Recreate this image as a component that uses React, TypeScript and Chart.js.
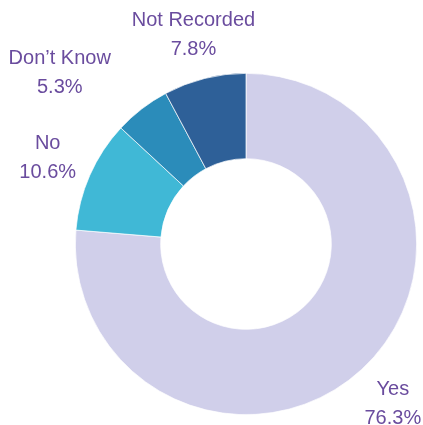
import React, { useEffect, useRef } from "react";
import { Chart, registerables } from "chart.js";

Chart.register(...registerables);

const categories = ["Yes", "No", "Don\u2019t Know", "Not Recorded"];
const values = [76.3, 10.6, 5.3, 7.8];
const valueLabels = ["76.3%", "10.6%", "5.3%", "7.8%"];

const colors = ["#d0cfea", "#40b8d6", "#2b8cba", "#2e6098"];
const labelNudgeX = [0, 0, -54, 0];
const labelNudgeY = [0, 0, 0, 0];

const labelPlugin = {
  id: "outsideLabels",
  afterDatasetsDraw(chart: any) {
    const ctx = chart.ctx;
    const meta = chart.getDatasetMeta(0);
    ctx.save();
    ctx.font = "20px 'Liberation Sans', Arial, sans-serif";
    ctx.fillStyle = "#6a4c9e";
    ctx.textAlign = "center";
    ctx.textBaseline = "middle";
    meta.data.forEach((arc: any, i: number) => {
      const p = arc.getProps(["x", "y", "startAngle", "endAngle", "outerRadius"], true);
      const mid = (p.startAngle + p.endAngle) / 2;
      const r = p.outerRadius + 46;
      const cx = p.x + Math.cos(mid) * r + labelNudgeX[i];
      const cy = p.y + Math.sin(mid) * r + labelNudgeY[i] + 1;
      ctx.fillText(categories[i], cx, cy - 14.5);
      ctx.fillText(valueLabels[i], cx, cy + 14.5);
    });
    ctx.restore();
  },
};

export default function App() {
  const ref = useRef<HTMLCanvasElement>(null);
  useEffect(() => {
    if (!ref.current) return;
    const chart = new Chart(ref.current, {
      type: "doughnut",
      data: {
        labels: categories,
        datasets: [
          {
            data: values,
            backgroundColor: colors,
            borderColor: "#ffffff",
            borderWidth: 0.7,
          },
        ],
      },
      options: {
        responsive: false,
        animation: false,
        cutout: "50%",
        layout: { padding: { left: 75, right: 6, top: 73, bottom: 10 } },
        plugins: {
          legend: { display: false },
          tooltip: { enabled: false },
        },
      },
      plugins: [labelPlugin],
    });
    return () => chart.destroy();
  }, []);
  return (
    <div style={{ position: "absolute", left: 0, top: 0, width: 423, height: 425, background: "#fff" }}>
      <canvas ref={ref} width={423} height={425} style={{ display: "block" }} />
    </div>
  );
}
